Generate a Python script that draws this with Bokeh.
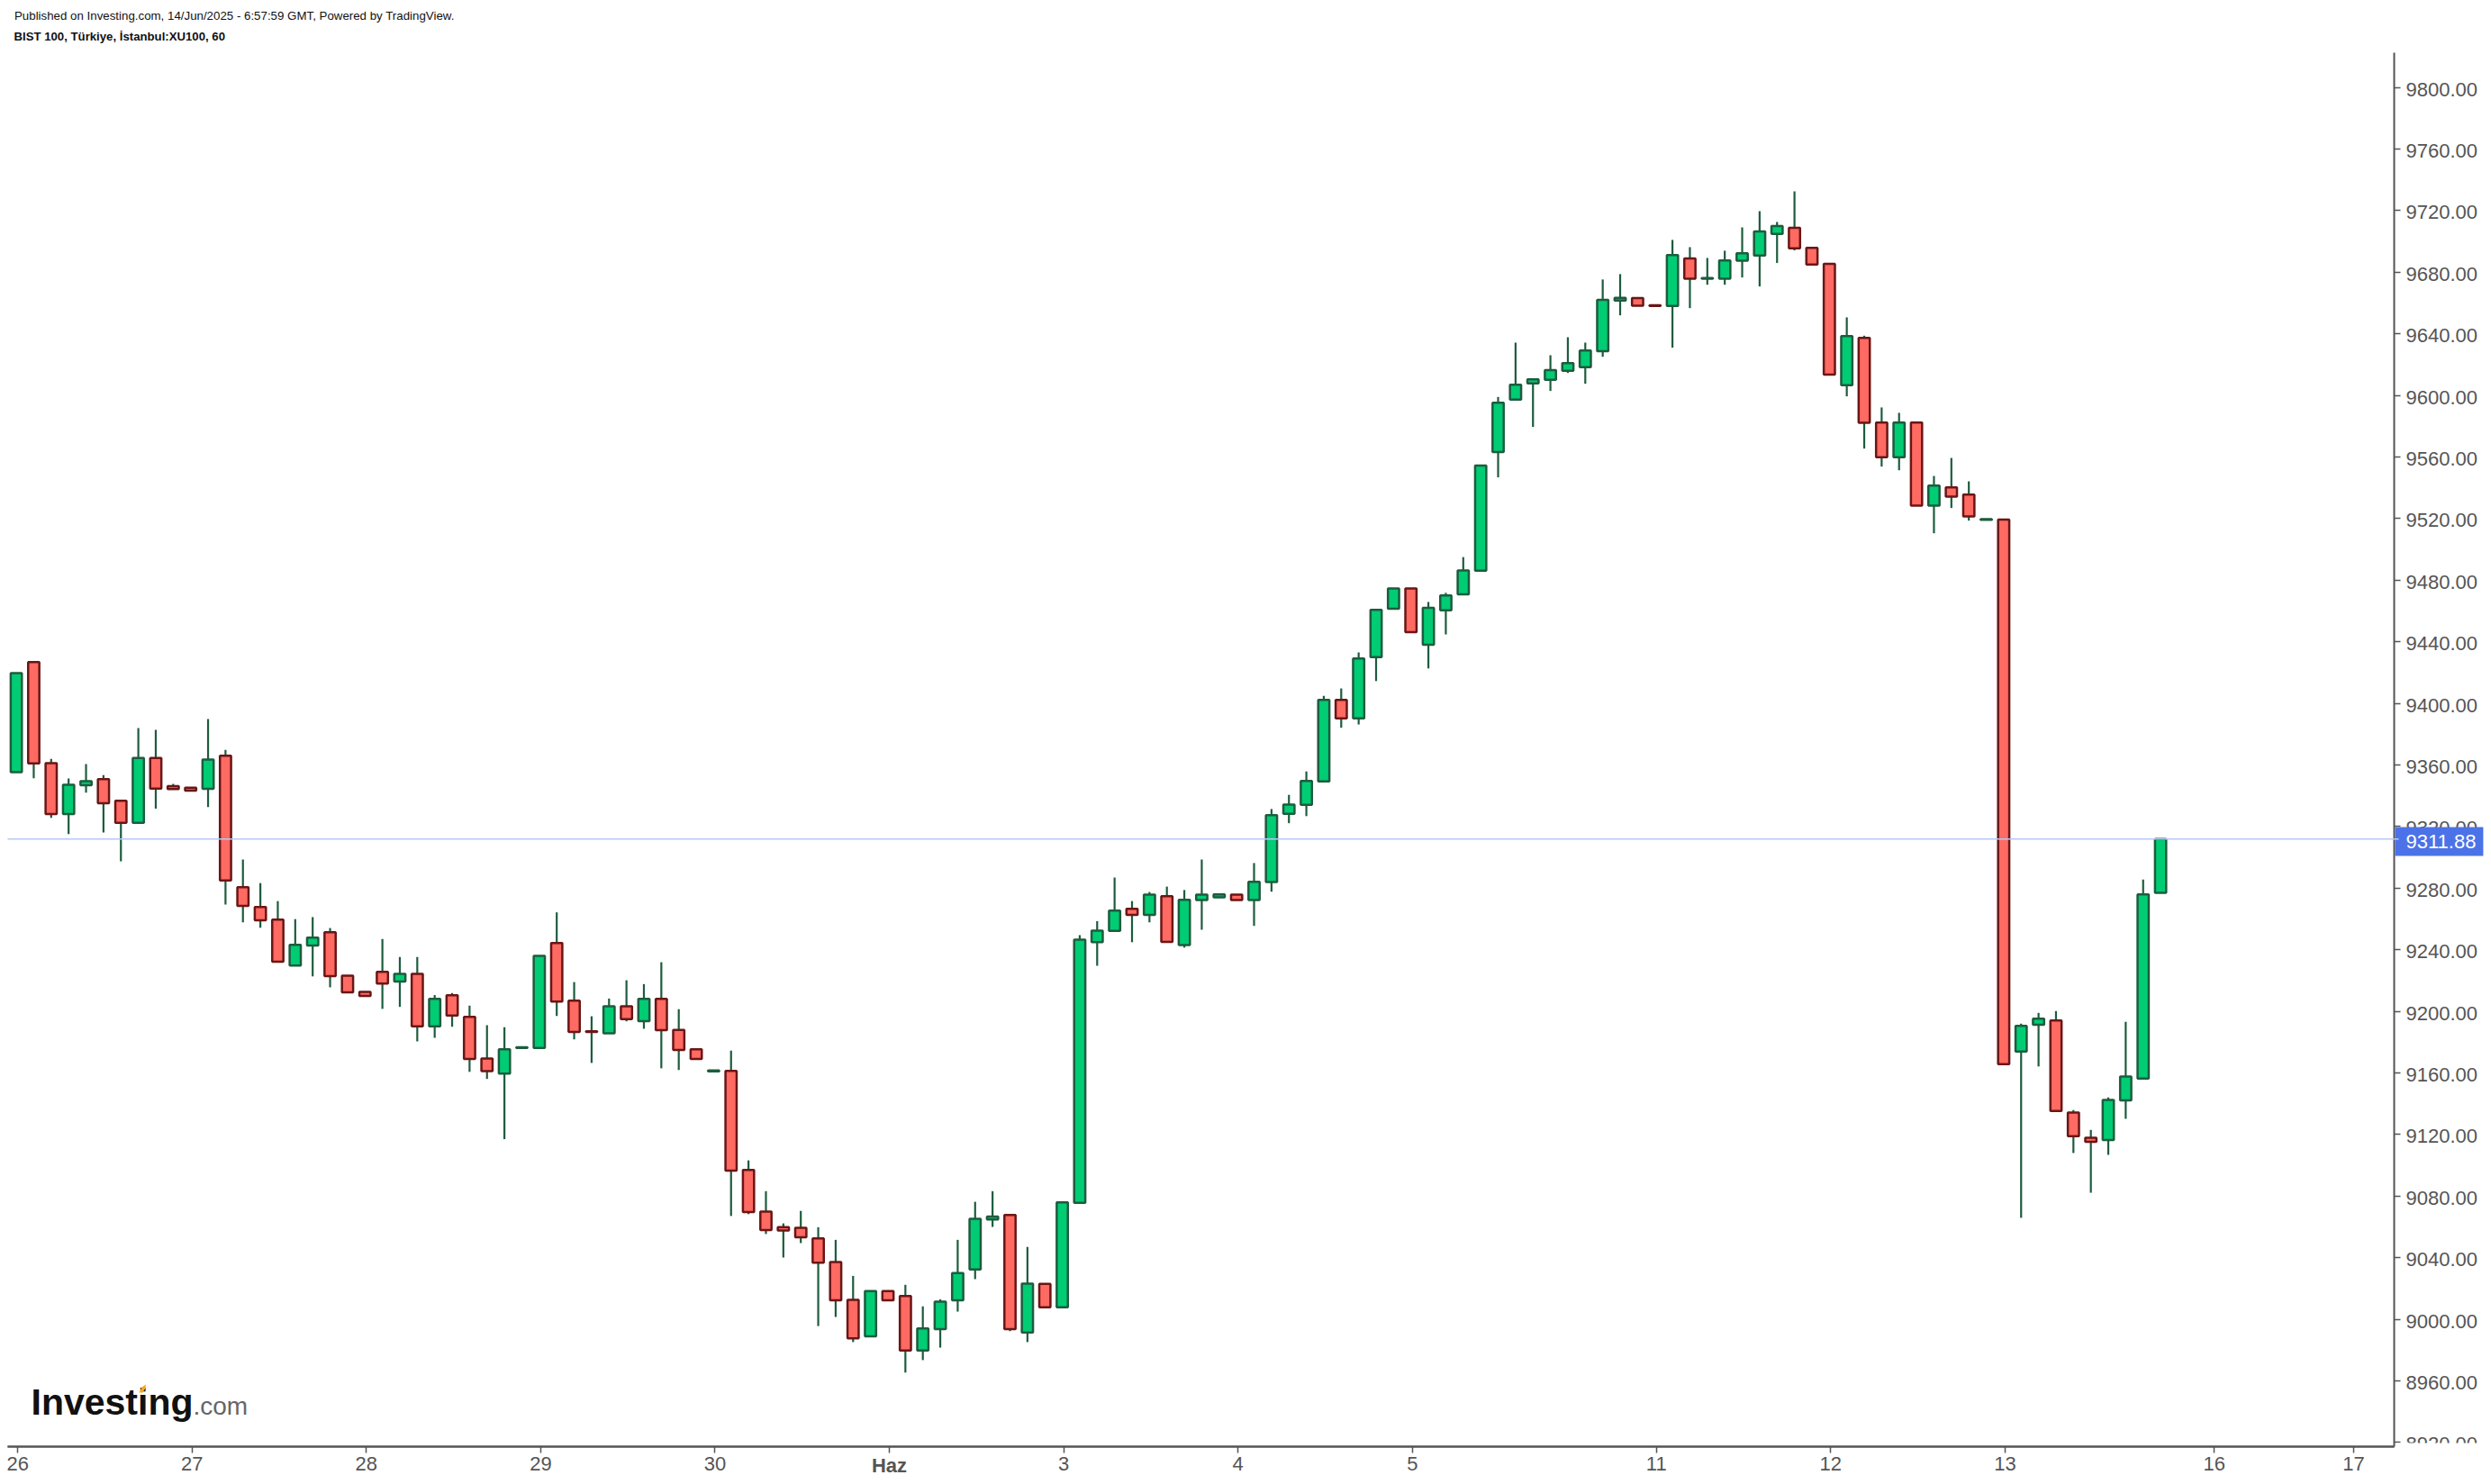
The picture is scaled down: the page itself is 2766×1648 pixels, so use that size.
from bokeh.plotting import figure
from bokeh.models import (ColumnDataSource, Label, BoxAnnotation, PolyAnnotation, LinearAxis,
                          FixedTicker)
from bokeh.embed import file_html
from bokeh.resources import INLINE

opens = [9355.4,9426.8,9361.2,9328.2,9346.8,9350.8,9336.8,9322.4,9364.6,9346.2,9345.2,9344.5,9366.0,9280.6,9267.7,9259.5,9229.8,9242.8,9251.4,9223.2,
         9212.7,9225.7,9219.4,9224.4,9190.2,9210.4,9196.4,9169.3,9159.6,9176.2,9176.2,9244.3,9206.9,9187.0,9185.8,9203.3,9193.7,9208.1,9188.0,9175.3,
         9161.0,9161.3,9097.0,9070.0,9059.8,9059.4,9052.5,9037.2,9012.6,8989.0,9018.4,9015.1,8979.8,8993.6,9012.4,9032.4,9064.8,9067.7,8991.5,9023.0,
         9007.8,9075.7,9245.0,9252.2,9266.6,9262.6,9274.8,9243.0,9272.3,9274.1,9275.8,9272.3,9284.0,9328.3,9334.1,9349.3,9402.2,9390.3,9430.0,9461.5,
         9474.7,9438.1,9460.5,9470.9,9486.2,9563.3,9597.3,9607.8,9610.1,9616.0,9618.3,9628.8,9661.6,9663.2,9658.5,9658.1,9688.9,9675.8,9675.8,9687.5,
         9690.9,9704.9,9708.8,9695.9,9685.4,9606.6,9637.4,9582.4,9559.8,9582.4,9528.4,9540.3,9535.6,9519.2,9519.3,9173.9,9191.3,9194.0,9134.3,9117.9,
         9116.4,9142.1,9156.4,9276.9]
highs = [9419.7,9426.8,9364.0,9351.2,9360.6,9353.5,9336.8,9384.0,9382.8,9347.7,9345.2,9389.9,9369.8,9298.6,9283.3,9271.6,9259.9,9261.2,9254.1,9223.2,
         9212.7,9247.0,9235.3,9235.3,9210.6,9211.9,9203.7,9191.0,9189.7,9176.6,9236.1,9264.3,9219.0,9196.8,9208.3,9220.2,9217.7,9231.9,9201.4,9175.3,
         9161.6,9174.5,9103.2,9083.2,9062.3,9070.4,9059.8,9051.6,9028.2,9018.4,9018.4,9022.4,9008.4,9013.0,9051.6,9076.3,9083.2,9067.7,9047.0,9023.0,
         9075.9,9249.5,9258.6,9286.9,9271.6,9277.5,9281.0,9278.8,9298.6,9276.0,9275.8,9296.3,9331.4,9340.6,9355.8,9404.9,9409.7,9433.1,9460.7,9474.7,
         9474.7,9465.9,9471.8,9495.0,9554.4,9599.0,9634.3,9610.5,9626.1,9637.8,9634.3,9675.3,9678.8,9663.2,9658.5,9701.0,9696.3,9689.3,9694.0,9709.2,
         9719.7,9712.7,9732.6,9695.9,9685.4,9650.7,9638.8,9592.2,9588.7,9582.4,9547.7,9559.4,9544.2,9519.6,9519.3,9192.0,9199.0,9200.2,9135.9,9123.0,
         9144.1,9193.2,9285.6,9311.88]
lows = [9355.4,9351.4,9325.7,9315.1,9342.0,9316.1,9297.5,9322.4,9331.6,9344.3,9343.3,9332.6,9269.3,9257.8,9254.3,9232.3,9229.8,9222.7,9215.6,9212.3,
        9210.0,9201.6,9202.9,9180.5,9182.8,9190.0,9160.7,9156.1,9117.0,9176.2,9176.2,9197.0,9181.8,9166.5,9185.8,9193.5,9188.7,9163.0,9161.9,9169.0,
        9161.0,9067.1,9068.3,9055.4,9040.1,9049.5,8995.6,9001.5,8985.2,8989.0,9012.4,8965.4,8973.5,8981.6,9005.0,9026.1,9060.0,8992.3,8985.2,9007.8,
        9007.8,9075.7,9229.6,9252.2,9244.9,9257.8,9245.1,9241.4,9253.0,9274.1,9272.3,9255.5,9277.7,9322.2,9326.8,9349.3,9384.2,9386.3,9414.5,9461.5,
        9446.3,9422.7,9444.8,9470.9,9486.2,9546.8,9597.3,9579.5,9602.9,9614.6,9607.6,9625.1,9652.0,9658.3,9658.1,9631.0,9656.7,9671.9,9671.9,9676.6,
        9670.8,9686.0,9694.2,9685.0,9613.6,9599.4,9565.5,9553.8,9551.4,9528.4,9510.5,9526.9,9518.7,9519.2,9165.7,9065.9,9164.2,9135.3,9108.0,9082.2,
        9106.8,9130.2,9156.4,9276.9]
closes = [9419.7,9361.0,9328.2,9347.2,9349.5,9335.1,9322.4,9364.6,9344.7,9344.3,9343.3,9363.5,9285.0,9268.5,9259.1,9232.3,9243.2,9247.8,9222.9,9212.3,
          9210.0,9218.1,9224.4,9190.2,9208.1,9197.3,9169.0,9161.1,9175.3,9176.6,9236.1,9206.4,9186.6,9186.6,9203.3,9195.0,9208.1,9187.8,9174.9,9169.0,
          9161.6,9096.5,9069.6,9057.9,9057.7,9053.3,9036.8,9012.4,8987.7,9018.4,9012.4,8979.8,8994.0,9011.5,9030.1,9065.2,9066.7,8993.6,9023.2,9007.8,
          9075.9,9246.5,9252.4,9265.4,9262.6,9275.8,9245.1,9272.5,9275.8,9276.0,9272.3,9284.2,9327.4,9334.3,9349.6,9402.2,9390.3,9429.1,9460.7,9474.7,
          9446.3,9462.0,9470.1,9486.4,9554.4,9595.3,9607.0,9610.5,9616.4,9621.0,9629.2,9662.0,9663.4,9658.3,9658.1,9691.2,9675.8,9676.2,9687.7,9692.4,
          9706.5,9710.0,9695.5,9685.0,9613.6,9638.6,9582.2,9559.8,9582.4,9528.4,9541.5,9534.3,9521.4,9519.6,9165.7,9190.5,9195.2,9135.3,9118.9,9115.2,
          9142.5,9157.7,9275.9,9311.88]

x_tick_bars = [0, 10, 20, 30, 40, 50, 60, 70, 80, 94, 104, 114, 126, 134]
x_tick_labels = ["26", "27", "28", "29", "30", "Haz", "3", "4", "5", "11", "12", "13", "16", "17"]
y_ticks = [8920, 8960, 9000, 9040, 9080, 9120, 9160, 9200, 9240, 9280, 9320, 9360, 9400, 9440, 9480,
           9520, 9560, 9600, 9640, 9680, 9720, 9760, 9800]
last_price = 9311.88

TICK_SHIFT = 0.08   # day ticks sit slightly right of the hour bar
LABEL_DROP = 1.17   # price labels sit about 2px under their tick
FONT = "Liberation Sans"
AXC = "#555555"
PANE_X = (-0.496, 136.4)      # extent of the price pane (axes end here)
PANE_Y = (8917.3, 9822.6)

xs = list(range(len(opens)))
up = [c >= o for o, c in zip(opens, closes)]
src = ColumnDataSource(dict(
    x=xs, o=opens, h=highs, l=lows, c=closes,
    top=[max(a, b) for a, b in zip(opens, closes)],
    bottom=[min(a, b) for a, b in zip(opens, closes)],
    fill=["#00CC74" if u else "#FF6A62" for u in up],
    edge=["#1D5C3E" if u else "#6A1616" for u in up],
))

# the frame fills the canvas so that nothing is clipped; the axes are pinned inside it
p = figure(frame_width=2758, frame_height=1640, output_backend="svg", toolbar_location=None,
           x_range=(-0.9093, 141.566), y_range=(8897.42, 9856.52), y_axis_location="right",
           min_border=0, background_fill_color="white", border_fill_color="white", outline_line_color=None)
p.grid.visible = False

p.segment("x", "h", "x", "l", source=src, line_color="#1D5C3E", line_width=2.2)
p.vbar(x="x", width=0.64, top="top", bottom="bottom", source=src,
       fill_color="fill", line_color="edge", line_width=2.5)


def style(ax):
    ax.axis_line_color = AXC
    ax.axis_line_width = 2
    ax.major_tick_line_color = AXC
    ax.major_tick_line_width = 1.5
    ax.major_tick_out = 7
    ax.major_tick_in = 0
    ax.minor_tick_line_color = None
    ax.major_label_text_color = AXC
    ax.major_label_text_font = FONT
    ax.major_label_text_font_size = "22px"


style(p.xaxis[0])
style(p.yaxis[0])

# price axis: line and ticks on the main axis, labels on a pinned companion axis
p.yaxis[0].fixed_location = PANE_X[1]
p.yaxis[0].bounds = PANE_Y
p.yaxis[0].ticker = FixedTicker(ticks=y_ticks)
p.yaxis[0].major_label_text_font_size = "0px"
p.yaxis[0].major_label_text_color = None

label_axis = LinearAxis(fixed_location=PANE_X[1], bounds=PANE_Y)
style(label_axis)
label_axis.axis_line_color = None
label_axis.major_tick_line_color = None
label_pos = [v - LABEL_DROP for v in y_ticks]
label_axis.ticker = FixedTicker(ticks=label_pos)
label_axis.major_label_overrides = {t: f"{v:.2f}" for t, v in zip(label_pos, y_ticks)}
label_axis.major_label_standoff = 6
p.add_layout(label_axis, "right")

tick_pos = [b + TICK_SHIFT for b in x_tick_bars]
p.xaxis[0].fixed_location = PANE_Y[0]
p.xaxis[0].bounds = PANE_X
p.xaxis[0].ticker = FixedTicker(ticks=[t for t, l in zip(tick_pos, x_tick_labels) if l != "Haz"])
p.xaxis[0].major_label_overrides = {t: l for t, l in zip(tick_pos, x_tick_labels) if l != "Haz"}
p.xaxis[0].major_label_standoff = 4

# the month start is the one bold label: a second pinned axis carries it
month_axis = LinearAxis(fixed_location=PANE_Y[0], bounds=PANE_X)
style(month_axis)
hz = x_tick_labels.index("Haz")
month_axis.ticker = FixedTicker(ticks=[tick_pos[hz]])
month_axis.major_label_overrides = {tick_pos[hz]: "Haz"}
month_axis.major_label_text_font_style = "bold"
month_axis.major_label_standoff = 1
p.add_layout(month_axis, "below")

# clip the lowest price label the way the reference does
p.add_layout(BoxAnnotation(left=136.5, right=141.566, top=8919.6, bottom=8897.42, fill_color="white", fill_alpha=1,
                           line_color=None, level="annotation"))

# last-price badge
p.add_layout(BoxAnnotation(left=136.45, right=141.51, top=9319.66, bottom=9300.9, fill_color="#4C72E8", fill_alpha=1,
                           line_color=None, level="annotation"))
price_line = p.segment(x0=[PANE_X[0]], x1=[136.66], y0=[last_price], y1=[last_price],
                       line_color="#B8C7F6", line_width=1.6, level="overlay")
p.add_layout(Label(x=2671, y=934, x_units="canvas", y_units="canvas", text=f"{last_price:.2f}", text_color="white",
                   text_font=FONT, text_font_size="22px", text_baseline="middle", level="overlay"))

p.add_layout(Label(x=15.5, y=17.3, x_units="canvas", y_units="canvas", text_font=FONT, text_font_size="13.3px",
                   text_color="#111111", text_baseline="middle",
                   text="Published on Investing.com, 14/Jun/2025 - 6:57:59 GMT, Powered by TradingView."))
p.add_layout(Label(x=15, y=40, x_units="canvas", y_units="canvas", text_font=FONT, text_font_size="13.2px",
                   text_font_style="bold", text_color="#111111", text_baseline="middle",
                   text="BIST 100, Türkiye, İstanbul:XU100, 60"))

# logo
p.add_layout(Label(x=34, y=1556.5, x_units="canvas", y_units="canvas", text="Investing", text_font=FONT,
                   text_font_size="41px", text_font_style="bold", text_color="#111111", text_baseline="middle"))
p.add_layout(Label(x=214, y=1561, x_units="canvas", y_units="canvas", text=".com", text_font=FONT,
                   text_font_size="28px", text_color="#666666", text_baseline="middle"))
p.add_layout(PolyAnnotation(xs=[154, 157, 161.5, 161, 158], ys=[1546, 1540, 1537, 1541, 1546],
                            xs_units="canvas", ys_units="canvas", fill_color="#F5A623", fill_alpha=1,
                            line_color=None, level="overlay"))

open("out.html", "w").write(file_html(p, INLINE))
